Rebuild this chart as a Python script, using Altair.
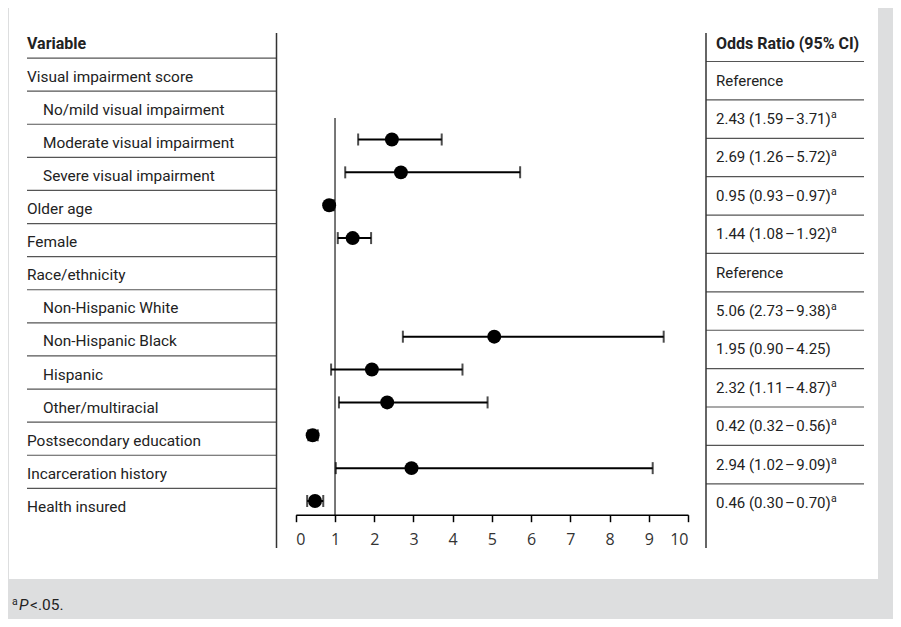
import altair as alt
import pandas as pd

# ---------------- data ----------------
left_labels = [
    "Visual impairment score", "No/mild visual impairment", "Moderate visual impairment",
    "Severe visual impairment", "Older age", "Female", "Race/ethnicity",
    "Non-Hispanic White", "Non-Hispanic Black", "Hispanic", "Other/multiracial",
    "Postsecondary education", "Incarceration history", "Health insured",
]
left_indent = [0, 1, 1, 1, 0, 0, 0, 1, 1, 1, 1, 0, 0, 0]

D = "\u200a\u2013\u200a"
right_values = [
    "Reference",
    f"2.43 (1.59{D}3.71)",
    f"2.69 (1.26{D}5.72)",
    f"0.95 (0.93{D}0.97)",
    f"1.44 (1.08{D}1.92)",
    "Reference",
    f"5.06 (2.73{D}9.38)",
    f"1.95 (0.90{D}4.25)",
    f"2.32 (1.11{D}4.87)",
    f"0.42 (0.32{D}0.56)",
    f"2.94 (1.02{D}9.09)",
    f"0.46 (0.30{D}0.70)",
]
right_sig = ["", "a", "a", "a", "a", "", "a", "", "a", "a", "a", "a"]

point_rows = [3, 4, 5, 6, 9, 10, 11, 12, 13, 14]
or_est = [2.45, 2.68, 0.85, 1.45, 5.06, 1.94, 2.33, 0.43, 2.95, 0.49]
ci_low = [1.59, 1.26, 0.93, 1.07, 2.73, 0.90, 1.10, 0.32, 1.02, 0.29]
ci_high = [3.72, 5.72, 0.97, 1.92, 9.38, 4.25, 4.89, 0.56, 9.10, 0.70]
x_ticks = list(range(0, 11))

# ---------------- tables ----------------
left_df = pd.DataFrame({"row": list(range(1, len(left_labels) + 1)),
                        "label": left_labels, "indent": left_indent})
right_df = pd.DataFrame({"rrow": list(range(1, len(right_values) + 1)),
                         "value": right_values, "sig": right_sig})
pts_df = pd.DataFrame({"prow": point_rows, "or": or_est, "lo": ci_low, "hi": ci_high})
left_bound = pd.DataFrame({"b": [i + 0.5 for i in range(len(left_labels))]})
right_bound = pd.DataFrame({"rb": [i + 0.5 for i in range(len(right_values))]})
one = pd.DataFrame({"k": [0]})

FONT = "Roboto"
TXT = "#222222"

left_scale = alt.Scale(domain=[0, 14], range=[33.5, 496.9])
right_scale = alt.Scale(domain=[0, 12], range=[34.3, 495])
pt_scale = alt.Scale(domain=[3, 14], range=[131.5, 493])
x_scale = alt.Scale(domain=[0, 10], range=[287.8, 680])

panel = alt.Chart(one).mark_rect(color="white").encode(
    x=alt.value(1), x2=alt.value(870), y=alt.value(0), y2=alt.value(571))

left_lines = alt.Chart(left_bound).mark_rule(color="#555555", strokeWidth=1.2).encode(
    y=alt.Y("b:Q", scale=left_scale, axis=None), x=alt.value(19), x2=alt.value(268.5))

right_lines = alt.Chart(right_bound).mark_rule(color="#555555", strokeWidth=1.2).encode(
    y=alt.Y("rb:Q", scale=right_scale, axis=None), x=alt.value(698), x2=alt.value(856))

vsep_left = alt.Chart(one).mark_rule(color="#333333", strokeWidth=1.5).encode(
    x=alt.value(268.5), y=alt.value(25), y2=alt.value(540))
vsep_right = alt.Chart(one).mark_rule(color="#333333", strokeWidth=1.5).encode(
    x=alt.value(698), y=alt.value(25), y2=alt.value(540))

left_text = alt.Chart(left_df).mark_text(
    align="left", baseline="middle", font=FONT, fontSize=15.4, color=TXT, dy=2).encode(
    x=alt.X("indent:Q", scale=alt.Scale(domain=[0, 1], range=[19, 35]), axis=None),
    y=alt.Y("row:Q", scale=left_scale, axis=None),
    text="label:N")

left_head = alt.Chart(one).mark_text(
    align="left", baseline="middle", font=FONT, fontSize=16, fontWeight="bold",
    color=TXT, text="Variable", dy=1).encode(x=alt.value(19), y=alt.value(35))

right_text = alt.Chart(right_df).mark_text(
    align="left", baseline="middle", font=FONT, fontSize=15, color=TXT).encode(
    x=alt.value(708),
    y=alt.Y("rrow:Q", scale=right_scale, axis=None),
    text="value:N")

right_sup = alt.Chart(right_df).mark_text(
    align="left", baseline="middle", font=FONT, fontSize=10.5, color=TXT, dy=-4).encode(
    x=alt.value(823),
    y=alt.Y("rrow:Q", scale=right_scale, axis=None),
    text="sig:N")

right_head = alt.Chart(one).mark_text(
    align="left", baseline="middle", font=FONT, fontSize=16, fontWeight="bold",
    color=TXT, text="Odds Ratio (95% CI)").encode(x=alt.value(708), y=alt.value(36))

ref_line = alt.Chart(one).mark_rule(color="#555555", strokeWidth=1.6).encode(
    x=alt.X(datum=1, scale=x_scale, axis=None), y=alt.value(110), y2=alt.value(507))

bars = alt.Chart(pts_df).mark_rule(color="black", strokeWidth=2).encode(
    x=alt.X("lo:Q", scale=x_scale, axis=None), x2="hi:Q",
    y=alt.Y("prow:Q", scale=pt_scale, axis=None))

cap_lo = alt.Chart(pts_df).mark_tick(color="black", orient="vertical", size=12, thickness=2).encode(
    x=alt.X("lo:Q", scale=x_scale, axis=None),
    y=alt.Y("prow:Q", scale=pt_scale, axis=None))
cap_hi = alt.Chart(pts_df).mark_tick(color="black", orient="vertical", size=12, thickness=2).encode(
    x=alt.X("hi:Q", scale=x_scale, axis=None),
    y=alt.Y("prow:Q", scale=pt_scale, axis=None))

points = alt.Chart(pts_df).mark_circle(color="black", size=195, opacity=1).encode(
    x=alt.X("or:Q", scale=x_scale,
            axis=alt.Axis(values=x_ticks, offset=-104.3, title=None, grid=False, zindex=2,
                          domainColor="black", domainWidth=1.5, tickColor="black",
                          tickWidth=1.5, tickSize=7, labelFont="Open Sans",
                          labelFontSize=16, labelColor="#333333", labelPadding=10)),
    y=alt.Y("prow:Q", scale=pt_scale, axis=None))

foot_a = alt.Chart(one).mark_text(align="left", baseline="alphabetic", font=FONT,
                                  fontSize=10.5, color=TXT, text="a").encode(
    x=alt.value(4), y=alt.value(597))
foot_p = alt.Chart(one).mark_text(align="left", baseline="alphabetic", font=FONT,
                                  fontSize=15.5, fontStyle="italic", color=TXT, text="P").encode(
    x=alt.value(11), y=alt.value(602))
foot_rest = alt.Chart(one).mark_text(align="left", baseline="alphabetic", font=FONT,
                                     fontSize=15.5, color=TXT, text="<.05.").encode(
    x=alt.value(22), y=alt.value(602))

chart = alt.layer(
    panel, left_lines, right_lines, vsep_left, vsep_right,
    left_text, left_head, right_text, right_sup, right_head,
    ref_line, bars, cap_lo, cap_hi, points,
    foot_a, foot_p, foot_rest,
).resolve_scale(x="independent", y="independent").properties(
    width=885, height=611, padding=0,
    autosize=alt.AutoSizeParams(type="none"),
    background="#dddedf",
).configure_view(stroke=None)

chart.save("out.html", embed_options={"renderer": "svg", "actions": False})
